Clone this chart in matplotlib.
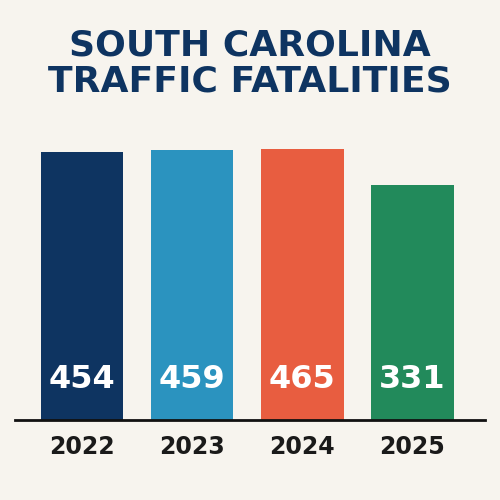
import matplotlib.pyplot as plt

years = ['2022', '2023', '2024', '2025']
fatalities = [454, 459, 465, 331]
colors = ['#0e3461', '#2b93bf', '#e85d40', '#228a5b']

bg = '#f7f4ee'
base = -550  # bars start well below zero, as in the original graphic

fig = plt.figure(figsize=(5, 5), dpi=100, facecolor=bg)
ax = fig.add_axes([0.03, 0.16, 0.94, 0.64], facecolor=bg)

x = range(len(years))
ax.bar(x, [v - base for v in fatalities], bottom=base, width=0.75, color=colors)
for i, v in enumerate(fatalities):
    ax.text(i, base + 150, str(v), ha='center', va='center', color='white',
            fontsize=23, fontweight='bold')

ax.set_xlim(-0.61, 3.66)
ax.set_ylim(base, 648)
ax.set_xticks(list(x))
ax.set_xticklabels(years, fontsize=17, fontweight='bold', color='#1a1a1a')
ax.tick_params(axis='x', length=0, pad=11)
ax.set_yticks([])
for s in ['top', 'right', 'left']:
    ax.spines[s].set_visible(False)
ax.spines['bottom'].set_color('#111111')
ax.spines['bottom'].set_linewidth(2)

fig.text(0.5, 0.873, 'SOUTH CAROLINA\nTRAFFIC FATALITIES', ha='center', va='center',
         fontsize=26, fontweight='bold', color='#0e3461', linespacing=1.08)

fig.savefig('out.png', dpi=100, facecolor=bg)
